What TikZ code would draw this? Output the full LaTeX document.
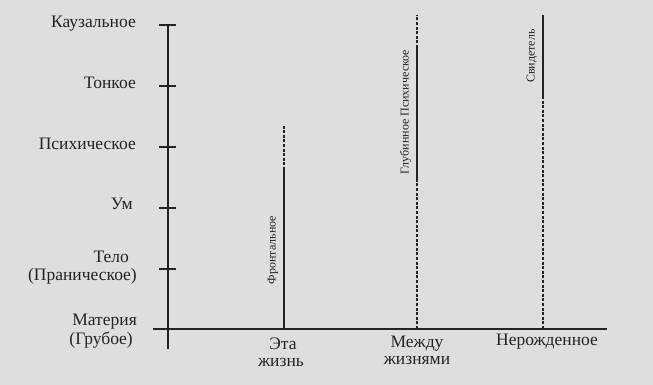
\documentclass[tikz,border=0pt]{standalone}
\usepackage{fontspec}
\setmainfont{Liberation Serif}
\definecolor{paper}{RGB}{222,222,222}
\definecolor{ink}{RGB}{35,35,35}
\begin{document}
\begin{tikzpicture}[x=1pt,y=-1pt,
  axisline/.style={ink, line width=1.2pt},
  barsolid/.style={ink, line width=2.2pt},
  bardash/.style={ink, line width=2.2pt, dash pattern=on 3pt off 1.6pt},
  levellabel/.style={anchor=east, inner sep=0pt, text height=0.7em, text depth=0.2em, font=\fontsize{17.5}{19}\selectfont, text=ink},
  barlabel/.style={rotate=90, inner sep=0pt, text height=0.7em, text depth=0.2em, font=\fontsize{12}{14}\selectfont, text=ink},
  stagelabel/.style={inner sep=0pt, text height=0.7em, text depth=0.2em, font=\fontsize{17.5}{19}\selectfont, text=ink}]
\fill[paper] (0,0) rectangle (653,385);
\useasboundingbox (0,0) rectangle (653,385);
% axes
\coordinate (vtop) at (168,25);
\coordinate (vbot) at (168,349);
\coordinate (hl) at (153,329);
\coordinate (hr) at (607,329);
\draw[axisline] (vtop) -- (vbot);
\draw[axisline] (hl) -- (hr);
% ticks
\foreach \n/\y in {1/25,2/86,3/147,4/208,5/269}{
  \coordinate (tl\n) at (159,\y);
  \coordinate (tr\n) at (176,\y);
  \draw[axisline] (tl\n) -- (tr\n);
}
% level labels
\node[levellabel] (kauz) at (136,25) {Каузальное};
\node[levellabel] (tonk) at (136,86) {Тонкое};
\node[levellabel] (psih) at (136,147) {Психическое};
\node[levellabel] (um) at (133,207) {Ум};
\node[levellabel] (telo) at (129,260) {Тело};
\node[levellabel] (pran) at (137,278) {(Праническое)};
\node[levellabel] (mat) at (137,323) {Материя};
\node[levellabel] (grub) at (133,342) {(Грубое)};
% bars
\coordinate (f0) at (284,329);
\coordinate (f1) at (284,170);
\coordinate (f2) at (284,125);
\draw[barsolid] (f0) -- (f1);
\draw[bardash] (f1) -- (f2);
\coordinate (m0) at (417,329);
\coordinate (m1) at (417,180);
\coordinate (m2) at (417,48);
\coordinate (m3) at (417,15);
\draw[bardash] (m0) -- (m1);
\draw[barsolid] (m1) -- (m2);
\draw[bardash] (m2) -- (m3);
\coordinate (w0) at (543,329);
\coordinate (w1) at (543,97);
\coordinate (w2) at (543,15);
\draw[bardash] (w0) -- (w1);
\draw[barsolid] (w1) -- (w2);
% bar labels
\node[barlabel] (front) at (273,250) {Фронтальное};
\node[barlabel] (glub) at (406,112) {Глубинное Психическое};
\node[barlabel] (svid) at (532,56) {Свидетель};
% stage labels
\node[stagelabel] (eta) at (283,347) {Эта};
\node[stagelabel] (zhizn) at (281,364) {жизнь};
\node[stagelabel] (mezh) at (417,345) {Между};
\node[stagelabel] (zhiznyami) at (417,362) {жизнями};
\node[stagelabel] (nerozh) at (547,343) {Нерожденное};
\end{tikzpicture}
\end{document}
